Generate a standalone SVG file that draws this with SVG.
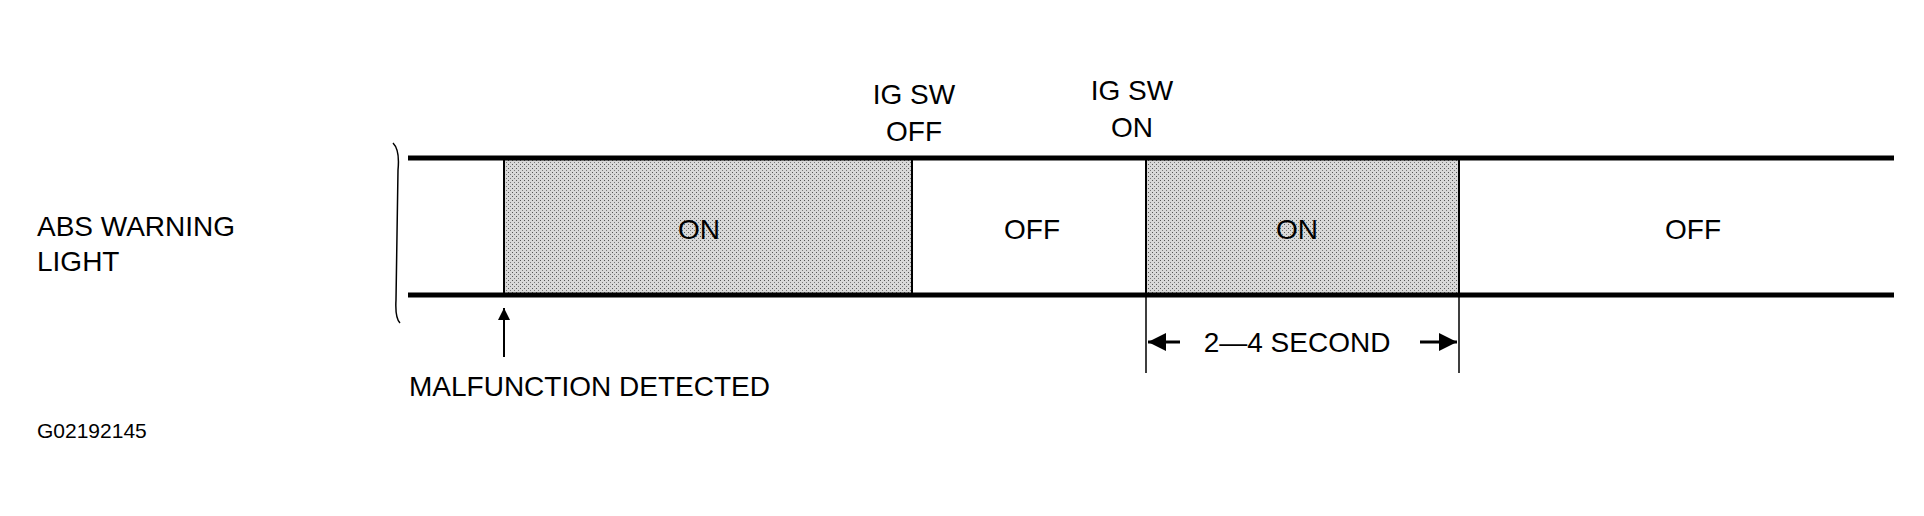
<svg xmlns="http://www.w3.org/2000/svg" width="1924" height="516" viewBox="0 0 1924 516">
<style>
text{font-family:"Liberation Sans",Arial,sans-serif;font-size:28px;fill:#000}
.c{text-anchor:middle}
.thick{stroke:#000;stroke-width:5;fill:none}
.thin{stroke:#000;stroke-width:1.5;fill:none}
.on{fill:url(#dots);stroke:#000;stroke-width:2}
</style>
<defs>
<pattern id="dots" width="4" height="4" patternUnits="userSpaceOnUse">
<rect width="4" height="4" fill="#d8d8d8"/>
<rect x="0" y="0" width="1" height="1" fill="#555"/>
<rect x="2" y="2" width="1" height="1" fill="#777"/>
</pattern>
<marker id="ah" viewBox="0 0 10 10" refX="10" refY="5" markerWidth="6" markerHeight="6" markerUnits="strokeWidth" orient="auto-start-reverse"><path d="M0,0L10,5L0,10z" fill="#000"/></marker>
</defs>
<g id="label"><text x="37" y="236">ABS WARNING</text><text x="37" y="271">LIGHT</text></g>
<g id="on1"><rect class="on" x="504" y="159" width="408" height="135"/><text class="c" x="699" y="239">ON</text></g>
<g id="off1"><text class="c" x="1032" y="239">OFF</text></g>
<g id="on2"><rect class="on" x="1146" y="159" width="313" height="135"/><text class="c" x="1297" y="239">ON</text></g>
<g id="off2"><text class="c" x="1693" y="239">OFF</text></g>
<g id="igoff"><text class="c" x="914" y="104">IG SW</text><text class="c" x="914" y="141">OFF</text></g>
<g id="igon"><text class="c" x="1132" y="100">IG SW</text><text class="c" x="1132" y="137">ON</text></g>
<g id="connectors">
<path class="thick" d="M408,158 H1894"/>
<path class="thick" d="M408,295 H1894"/>
<path class="thin" d="M393,143 Q400,150 398,170 L396,300 Q395,318 400,323"/>
<path class="thin" d="M504,357 V308" marker-end="url(#ah)" style="stroke-width:2"/>
<path class="thin" d="M1146,294 V373 M1459,294 V373"/>
<path class="thin" d="M1180,342 H1148" marker-end="url(#ah)" style="stroke-width:3"/>
<path class="thin" d="M1420,342 H1457" marker-end="url(#ah)" style="stroke-width:3"/>
</g>
<g id="texts">
<text x="409" y="396">MALFUNCTION DETECTED</text>
<text class="c" x="1297" y="352">2—4 SECOND</text>
<text x="37" y="438" style="font-size:21px">G02192145</text>
</g>
</svg>
